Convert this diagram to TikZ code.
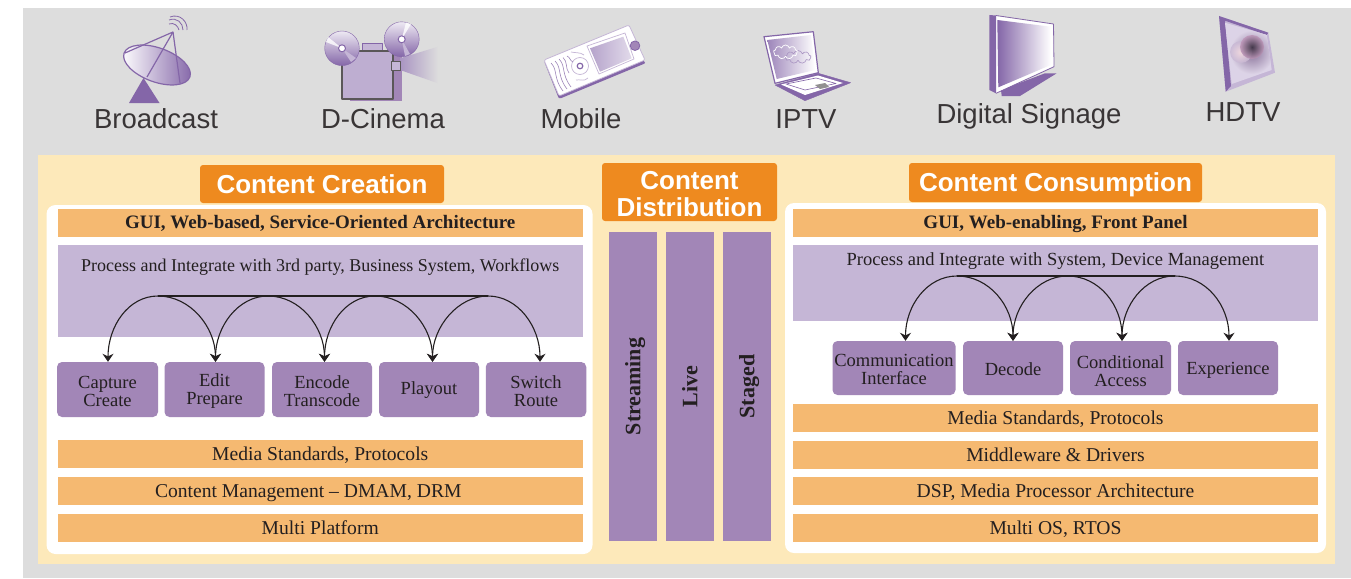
\documentclass[tikz,border=0pt]{standalone}
\usepackage{fontspec}
\setmainfont{Liberation Serif}
\newfontfamily\labelfont{Liberation Sans}
\usetikzlibrary{arrows.meta,shapes.symbols}
\definecolor{greyback}{HTML}{DDDDDD}
\definecolor{cream}{HTML}{FDE9BA}
\definecolor{barorange}{HTML}{F5B971}
\definecolor{headorange}{HTML}{EE8A1F}
\definecolor{lilac}{HTML}{C5B6D6}
\definecolor{boxpurple}{HTML}{A286B7}
\definecolor{darkpurple}{HTML}{8466A8}
\definecolor{inkblack}{HTML}{231F20}
\begin{document}
\begin{tikzpicture}[x=1pt,y=-1pt,line join=round,
devicelabel/.style={font=\labelfont\fontsize{27.5}{30}\selectfont,text=inkblack!90,inner sep=0pt,text height=18.5pt,text depth=0pt},
heading/.style={shape=rectangle,rounded corners=3pt,fill=headorange,text=white,align=center,inner sep=0pt,font=\labelfont\bfseries\fontsize{26}{27}\selectfont},
oneline/.style={text height=19pt,text depth=0pt},
panel/.style={shape=rectangle,rounded corners=9pt,fill=white,inner sep=0pt},
leftbar/.style={shape=rectangle,fill=barorange,minimum width=525.5pt,minimum height=28pt,inner sep=0pt,text=inkblack,text height=13pt,text depth=0pt,font=\fontsize{19.6}{21}\selectfont},
rightbar/.style={leftbar,minimum width=525pt},
boldbar/.style={font=\bfseries\fontsize{19}{21}\selectfont,text height=10.5pt},
band/.style={shape=rectangle,fill=lilac,inner sep=0pt},
bandtext/.style={text=inkblack,inner sep=0pt,text height=12pt,text depth=0pt,font=\fontsize{18}{20}\selectfont},
taskbox/.style={shape=rectangle,rounded corners=5pt,fill=boxpurple,inner sep=0pt,align=center,text=inkblack,font=\fontsize{18.5}{18}\selectfont},
column/.style={shape=rectangle,fill=boxpurple,rotate=90,minimum width=309pt,minimum height=48pt,inner sep=0pt,text=inkblack,text height=14.5pt,text depth=0pt,font=\bfseries\fontsize{22}{24}\selectfont},
hasflow/.style={line width=1.1pt,inkblack,-{Stealth[length=8pt,width=11pt]}},
hubline/.style={line width=1.1pt,inkblack},
iconline/.style={darkpurple,line width=1.2pt}]
\useasboundingbox (0,0) rectangle (1351,578);
\fill[greyback] (22.5,8) rectangle (1351,578);
\fill[cream] (38,155) rectangle (1335,564);
% device icons
% broadcast
\shade[left color=white,right color=darkpurple,rotate around={-20:(157,65)},draw=darkpurple,line width=1.2pt] (157,65) ellipse (35 and 17);
\draw[iconline] (125,53) -- (173,32) -- (147,77);
\draw[iconline] (173,32) -- (180,83);
\fill[darkpurple] (143.5,78) -- (129,103) -- (159.5,103) -- cycle;
\draw[darkpurple,line width=.8pt] (169,24) .. controls (174,22) and (178,26) .. (179,30);
\draw[darkpurple,line width=.8pt] (169,20) .. controls (177,17) and (183,23) .. (183,30);
\draw[darkpurple,line width=.8pt] (170,17) .. controls (180,13) and (188,22) .. (187,30);
% d-cinema
\fill[boxpurple] (385,51) rectangle (401.7,100.5);
\fill[boxpurple] (350,95) rectangle (401.7,100.5);
\draw[fill=lilac,draw=darkpurple,line width=1pt] (362.3,43.3) rectangle (382.7,50.7);
\draw[fill=lilac!90!darkpurple,draw=inkblack!75,line width=2pt] (342.3,50.7) rectangle (392.7,99.3);
\shade[left color=darkpurple!70,right color=greyback] (400,58.3) -- (438,46.7) -- (438,83.3) -- (400,70) -- cycle;
\draw[fill=lilac,draw=inkblack!75,line width=1pt] (391.7,61.7) rectangle (400,70);
\shade[top color=white!70!lilac,bottom color=darkpurple,draw=darkpurple] (342,48.3) circle (17.3);
\fill[white,opacity=.8] (342,48.3) -- (326,42) -- (328,37) -- cycle;
\fill[lilac] (342,48.3) -- (351,62) -- (356,58) -- cycle;
\draw[fill=white,draw=darkpurple,line width=1pt] (342,48.3) circle (3.5);
\shade[top color=white!70!lilac,bottom color=darkpurple,draw=darkpurple] (401.7,39.3) circle (17.5);
\fill[white,opacity=.8] (401.7,39.3) -- (406,22.5) -- (411,24) -- cycle;
\fill[lilac] (401.7,39.3) -- (405,56) -- (410,54) -- cycle;
\draw[fill=white,draw=darkpurple,line width=1pt] (401.7,39.3) circle (3.5);
% mobile
\fill[darkpurple,rounded corners=2pt] (544,61) -- (559,99) -- (646,63) -- (640,58) -- cycle;
\draw[fill=white,draw=lilac,line width=.8pt,rounded corners=2pt] (544,60) -- (629,25) -- (645,60) -- (559,96) -- cycle;
\shade[left color=darkpurple!60,right color=lilac!50!white] (590,48.3) -- (623.3,36.7) -- (631.7,58.3) -- (600,71.7) -- cycle;
\draw[lilac,line width=.7pt] (587,46) -- (625,33) -- (634,59) -- (599,74) -- cycle;
\draw[fill=boxpurple,draw=darkpurple,line width=.8pt] (635,45.7) circle (4.8);
\draw[fill=white,draw=lilac,line width=.7pt] (580,66) circle (8.5);
\draw[fill=white,draw=darkpurple,line width=1.2pt] (580,66) circle (2.8);
\draw[darkpurple!80,line width=.6pt] (551,63) .. controls (558,70) and (553,78) .. (563,91);
\draw[darkpurple!80,line width=.6pt] (555,61) .. controls (562,68) and (557,76) .. (567,89);
\draw[darkpurple!80,line width=.6pt] (559,59) .. controls (566,66) and (561,74) .. (571,87);
\draw[darkpurple!80,line width=.6pt] (563,57.5) .. controls (568,62) and (565,68) .. (569,73);
\draw[darkpurple!80,line width=.6pt] (567,56) .. controls (571,58) and (569,60) .. (573,62);
\draw[lilac,line width=.7pt] (571,52) .. controls (575,53) and (580,52) .. (584,55);
\draw[lilac,line width=.7pt] (576,80) .. controls (580,79) and (584,82) .. (588,78);
% iptv
\draw[fill=white,draw=darkpurple,line width=1.2pt] (764,36.7) -- (813.3,31.7) -- (818.3,72.7) -- (775,83.3) -- cycle;
\shade[left color=darkpurple!80,right color=white] (767.3,40) -- (811,35) -- (815,70) -- (776.7,79) -- cycle;
\draw[fill=darkpurple,draw=darkpurple] (775,85) -- (818.3,73.3) -- (850.7,82.7) -- (805,100.7) -- cycle;
\fill[white] (781,84.5) -- (818,75.5) -- (843,83) -- (805,95) -- cycle;
\draw[darkpurple,line width=.6pt] (786,84) -- (816,78) -- (836,83.5) -- (805,90) -- cycle;
\fill[inkblack!50] (815,85) -- (825,83) -- (829,87) -- (820,89) -- cycle;
\node[cloud,cloud puffs=9,aspect=1.8,draw=darkpurple!70,line width=.6pt,minimum width=26pt,minimum height=13pt,inner sep=0pt] (clouddark) at (798,57) {};
\node[cloud,cloud puffs=9,aspect=1.8,draw=white,line width=.7pt,minimum width=24pt,minimum height=14pt,inner sep=0pt] (cloudwhite) at (785.5,52) {};
% digital signage
\fill[darkpurple] (1001,90) -- (1045,73.3) -- (1056.7,73.3) -- (1020,96) -- (1001.7,96) -- cycle;
\fill[white] (992,15.5) -- (1053.5,24) -- (1054,66.7) -- (996,93) -- cycle;
\fill[darkpurple] (989.3,15) -- (996,15.5) -- (996,93.3) -- (989.3,90) -- cycle;
\draw[darkpurple,line width=.8pt] (996,15.5) -- (1053.5,24) -- (1054,66.7) -- (996,93.3);
\shade[left color=darkpurple,right color=white] (997.3,20) -- (1050.7,26.7) -- (1050.7,65) -- (998.3,87.3) -- cycle;
% hdtv
\fill[lilac] (1219,16) -- (1268.3,32.7) -- (1275,72.7) -- (1225.7,91.7) -- cycle;
\fill[darkpurple] (1219,16) -- (1268.3,32.7) -- (1266.7,35) -- (1225,20.7) -- (1231,86) -- (1225.7,91.7) -- cycle;
\begin{scope}
\clip (1225,22.7) -- (1266.7,35) -- (1271.7,70) -- (1231.7,84) -- cycle;
\fill[lilac!60!white] (1225,22) rectangle (1272,85);
\shade[inner color=boxpurple!80!inkblack,outer color=lilac!60!white] (1252,52) circle (22);
\shade[inner color=pink!40!white,outer color=boxpurple!60!white,opacity=.8] (1241,52) circle (11);
\shade[inner color=inkblack!75!darkpurple,outer color=boxpurple!70!pink,opacity=.9] (1252,47) circle (12);
\end{scope}
% device labels
\node[devicelabel] (broadcast) at (156,119) {Broadcast};
\node[devicelabel] (dcinema) at (383,119) {D-Cinema};
\node[devicelabel] (mobile) at (581,119) {Mobile};
\node[devicelabel] (iptv) at (806,119) {IPTV};
\node[devicelabel] (signage) at (1029,114) {Digital Signage};
\node[devicelabel] (hdtv) at (1243,112) {HDTV};
% panels
\node[panel,minimum width=546pt,minimum height=349pt] (leftpanel) at (319.5,379.5) {};
\node[panel,minimum width=541pt,minimum height=350pt] (rightpanel) at (1055.5,378) {};
% headings
\node[heading,oneline,minimum width=244pt,minimum height=38pt] (creation) at (322,184) {Content Creation};
\node[heading,minimum width=175pt,minimum height=58pt] (distribution) at (689.5,192) {\rule{0pt}{23pt}Content\\Distribution};
\node[heading,oneline,text height=17.5pt,minimum width=293pt,minimum height=39pt] (consumption) at (1055.5,182.5) {Content Consumption};
% left side
\node[leftbar,boldbar] (lgui) at (320.25,223) {GUI, Web-based, Service-Oriented Architecture};
\node[band,minimum width=525.5pt,minimum height=92pt] (lband) at (320.25,291) {};
\node[bandtext] (lprocess) at (320.25,265) {Process and Integrate with 3rd party, Business System, Workflows};
\node[taskbox,minimum width=101pt,minimum height=55pt] (capture) at (107.5,389.5) {\rule{0pt}{16pt}Capture\\Create};
\node[taskbox,minimum width=100pt,minimum height=55pt] (edit) at (214.5,389.5) {\rule{0pt}{16pt}Edit\\Prepare};
\node[taskbox,minimum width=100pt,minimum height=55pt] (encode) at (322,389.5) {\rule{0pt}{16pt}Encode\\Transcode};
\node[taskbox,text height=9.5pt,text depth=0pt,minimum width=100pt,minimum height=55pt] (playout) at (429,389.5) {Playout};
\node[taskbox,minimum width=100.5pt,minimum height=55pt] (switch) at (536,389.5) {\rule{0pt}{16pt}Switch\\Route};
\node[leftbar] (lmedia) at (320.25,454) {Media Standards, Protocols};
\node[leftbar] (lcontent) at (320.25,491) {Content Management -- DMAM, DRM\rule{24pt}{0pt}};
\node[leftbar] (lmulti) at (320.25,528) {Multi Platform};
\coordinate (la) at (158,296);
\coordinate (lb) at (268,296);
\coordinate (lc) at (375,296);
\coordinate (ld) at (488,296);
\draw[hubline] (la) -- (ld);
\draw[hasflow] (la) .. controls +(-30,0) and +(0,-35) .. ([xshift=.5pt]capture.north);
\draw[hasflow] (la) .. controls +(32,0) and +(0,-35) .. ([xshift=1pt]edit.north);
\draw[hasflow] (lb) .. controls +(-30,0) and +(0,-35) .. ([xshift=1pt]edit.north);
\draw[hasflow] (lb) .. controls +(32,0) and +(0,-35) .. ([xshift=2.5pt]encode.north);
\draw[hasflow] (lc) .. controls +(-30,0) and +(0,-35) .. ([xshift=2.5pt]encode.north);
\draw[hasflow] (lc) .. controls +(32,0) and +(0,-35) .. ([xshift=3.5pt]playout.north);
\draw[hasflow] (ld) .. controls +(-30,0) and +(0,-35) .. ([xshift=3.5pt]playout.north);
\draw[hasflow] (ld) .. controls +(30,0) and +(0,-35) .. ([xshift=4pt]switch.north);
% columns
\node[column] (streaming) at (633,386.5) {Streaming};
\node[column] (live) at (690,386.5) {Live};
\node[column] (staged) at (747,386.5) {Staged};
% right side
\node[rightbar,boldbar] (rgui) at (1055.5,223) {GUI, Web-enabling, Front Panel};
\node[band,minimum width=525pt,minimum height=76pt] (rband) at (1055.5,283) {};
\node[bandtext,font=\fontsize{18.5}{20}\selectfont] (rprocess) at (1055.5,259) {Process and Integrate with System, Device Management};
\node[taskbox,minimum width=123pt,minimum height=54pt] (comm) at (894,368) {\rule{0pt}{16pt}Communication\\Interface};
\node[taskbox,text height=15pt,text depth=0pt,minimum width=100pt,minimum height=54pt] (decode) at (1013,368) {Decode};
\node[taskbox,minimum width=101pt,minimum height=54pt] (cond) at (1120.5,368) {\rule{0pt}{20pt}Conditional\\Access};
\node[taskbox,text height=12pt,text depth=0pt,minimum width=100pt,minimum height=54pt] (exper) at (1228,368) {Experience};
\node[rightbar] (rmedia) at (1055.5,418) {Media Standards, Protocols};
\node[rightbar] (rmiddle) at (1055.5,455) {Middleware \& Drivers};
\node[rightbar] (rdsp) at (1055.5,491) {DSP, Media Processor Architecture};
\node[rightbar] (rmulti) at (1055.5,528) {Multi OS, RTOS};
\coordinate (ra) at (957,276);
\coordinate (rb) at (1067.5,276);
\coordinate (rc) at (1174.5,276);
\draw[hubline] (ra) -- (rc);
\draw[hasflow] (ra) .. controls +(-30,0) and +(0,-35) .. ([xshift=11.5pt]comm.north);
\draw[hasflow] (ra) .. controls +(32,0) and +(0,-35) .. (decode.north);
\draw[hasflow] (rb) .. controls +(-30,0) and +(0,-35) .. (decode.north);
\draw[hasflow] (rb) .. controls +(32,0) and +(0,-35) .. ([xshift=1.5pt]cond.north);
\draw[hasflow] (rc) .. controls +(-30,0) and +(0,-35) .. ([xshift=1.5pt]cond.north);
\draw[hasflow] (rc) .. controls +(32,0) and +(0,-35) .. ([xshift=1pt]exper.north);
\end{tikzpicture}
\end{document}
